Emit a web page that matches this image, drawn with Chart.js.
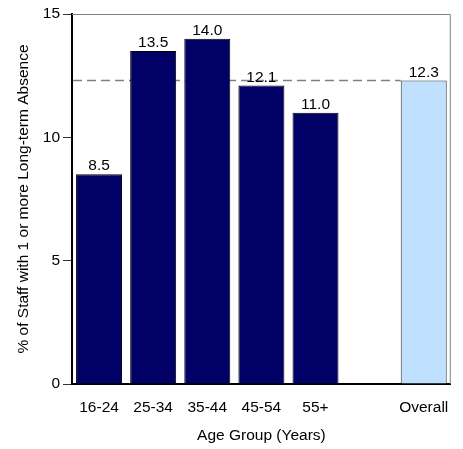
<!DOCTYPE html>
<html>
<head>
<meta charset="utf-8">
<script src="https://cdn.jsdelivr.net/npm/chart.js@4"></script>
<style>
html,body{margin:0;padding:0;background:#fff;}
#wrap{width:463px;height:449px;position:relative;}
</style>
</head>
<body>
<div id="wrap"><canvas id="c" width="463" height="449"></canvas></div>
<script>
const categories = ["16-24", "25-34", "35-44", "45-54", "55+", "", "Overall"];
const values = [8.5, 13.5, 14.0, 12.1, 11.0, null, 12.3];
const overallValue = 12.3;
const yTicks = [0, 5, 10, 15];

const navy = "#000066";
const light = "#C0E0FF";
const colors = categories.map(c => c === "Overall" ? light : navy);

const FONT = "'Liberation Sans', Arial, sans-serif";
const FS = 15.5;

const extras = {
  id: "extras",
  beforeDatasetsDraw(chart) {
    const {ctx, chartArea: a, scales: {y}} = chart;
    ctx.save();
    ctx.strokeStyle = "#808080";
    ctx.lineWidth = 1;
    ctx.beginPath();
    ctx.moveTo(a.left, a.top + 0.5);
    ctx.lineTo(a.right - 0.5, a.top + 0.5);
    ctx.lineTo(a.right - 0.5, a.bottom);
    ctx.stroke();
    const meta = chart.getDatasetMeta(0);
    const ob = meta.data[categories.indexOf("Overall")];
    const yy = y.getPixelForValue(overallValue);
    ctx.strokeStyle = "#808080";
    ctx.lineWidth = 1.5;
    ctx.setLineDash([9, 5]);
    ctx.beginPath();
    ctx.moveTo(a.left + 1, yy);
    ctx.lineTo(ob.x - ob.width / 2, yy);
    ctx.stroke();
    ctx.restore();
  },
  afterDatasetsDraw(chart) {
    const {ctx} = chart;
    const meta = chart.getDatasetMeta(0);
    ctx.save();
    ctx.fillStyle = "#000";
    ctx.font = FS + "px " + FONT;
    ctx.textAlign = "center";
    ctx.textBaseline = "alphabetic";
    meta.data.forEach((bar, i) => {
      const v = values[i];
      if (v === null) return;
      ctx.fillText(v.toFixed(1), bar.x, bar.y - 4);
    });
    ctx.restore();
  }
};

new Chart(document.getElementById("c"), {
  type: "bar",
  data: {
    labels: categories,
    datasets: [{
      data: values,
      backgroundColor: colors,
      borderColor: categories.map(c => c === "Overall" ? "#333" : "#000"),
      borderWidth: 1,
      borderSkipped: "bottom",
      barPercentage: 0.85,
      categoryPercentage: 1.0
    }]
  },
  options: {
    responsive: false,
    animation: false,
    devicePixelRatio: 1,
    layout: {padding: {top: 14, right: 10, left: 0, bottom: 0}},
    plugins: {legend: {display: false}, tooltip: {enabled: false}},
    scales: {
      x: {
        afterFit(s) { s.height = 65; },
        grid: {display: false, drawTicks: false},
        border: {color: "#000", width: 2},
        ticks: {color: "#000", font: {family: FONT, size: FS}, padding: 14, maxRotation: 0, autoSkip: false},
        title: {display: true, text: "Age Group (Years)", color: "#000", font: {family: FONT, size: FS}, padding: {top: 4}}
      },
      y: {
        min: 0, max: 15,
        afterFit(s) { s.width = 72; },
        afterBuildTicks(s) { s.ticks = yTicks.map(v => ({value: v})); },
        grid: {drawOnChartArea: false, drawTicks: true, tickLength: 9, color: "#333"},
        border: {color: "#000", width: 2},
        ticks: {color: "#000", font: {family: FONT, size: FS}, padding: 3},
        title: {display: true, text: "% of Staff with 1 or more Long-term Absence", color: "#000", font: {family: FONT, size: FS}, padding: {top: 14, bottom: 0}}
      }
    }
  },
  plugins: [extras]
});
</script>
</body>
</html>
